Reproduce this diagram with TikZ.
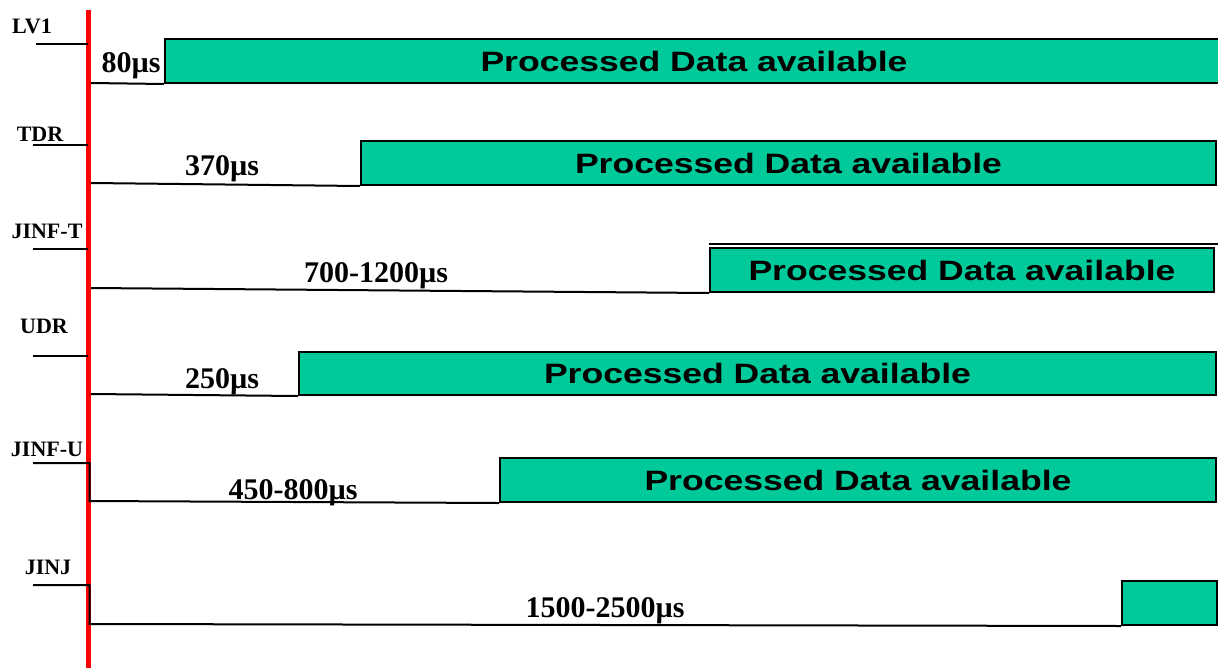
\documentclass[tikz,border=0pt]{standalone}
\usepackage{fontspec}
\setmainfont{Liberation Serif}
\newfontfamily\boxfont[FakeStretch=1.27]{Liberation Sans}
\definecolor{dataGreen}{RGB}{0,201,154}
\tikzset{
  sig/.style={line width=2pt, black},
  trigger/.style={line width=5pt, red},
  rowlabel/.style={font=\fontsize{22}{24}\selectfont\bfseries, anchor=base, inner sep=0pt},
  delay/.style={font=\fontsize{30}{32}\selectfont\bfseries, anchor=base, inner sep=0pt},
  databox/.style={draw=black, line width=2pt, fill=dataGreen, anchor=north west,
    inner sep=0pt, font=\boxfont\fontsize{28}{30}\selectfont\bfseries},
}
\begin{document}
\begin{tikzpicture}[x=1pt, y=-1pt]
\useasboundingbox (0,0) rectangle (1218,667);

% trigger line
\coordinate (trigTop) at (88.5,10);
\coordinate (trigBot) at (88.5,670);
\draw[trigger] (trigTop) -- (trigBot);

% ---- LV1 ----
\node[rowlabel] (lv1) at (32,33) {LV1};
\coordinate (lv1in) at (36,44);
\coordinate (lv1red) at (88,44);
\coordinate (lv1low) at (91,83);
\node[databox, minimum width=1058pt, minimum height=44pt] (lv1box) at (164,38) {Processed Data available};
\node[delay] (lv1t) at (131,72) {80µs};
\draw[sig] (lv1in) -- (lv1red);
\draw[sig] (lv1low) -- (lv1box.south west);

% ---- TDR ----
\node[rowlabel] (tdr) at (40,141) {TDR};
\coordinate (tdrin) at (33,145);
\coordinate (tdrred) at (88,145);
\coordinate (tdrlow) at (91,183);
\node[databox, minimum width=855pt, minimum height=44pt] (tdrbox) at (360,140) {Processed Data available};
\node[delay] (tdrt) at (222,175) {370µs};
\draw[sig] (tdrin) -- (tdrred);
\draw[sig] (tdrlow) -- (tdrbox.south west);

% ---- JINF-T ----
\node[rowlabel] (jinft) at (47,238) {JINF-T};
\coordinate (jinftin) at (33,249);
\coordinate (jinftred) at (88,249);
\coordinate (jinftlow) at (91,288);
\node[databox, minimum width=504pt, minimum height=44pt] (jinftbox) at (709,247) {Processed Data available};
\node[delay] (jinftt) at (376,282) {700-1200µs};
\coordinate (jinftcapL) at (709,243.5);
\coordinate (jinftcapR) at (1220,243.5);
\draw[sig] (jinftin) -- (jinftred);
\draw[sig] (jinftlow) -- (jinftbox.south west);
\draw[sig] (jinftcapL) -- (jinftcapR);

% ---- UDR ----
\node[rowlabel] (udr) at (44,333) {UDR};
\coordinate (udrin) at (33,356);
\coordinate (udrred) at (88,356);
\coordinate (udrlow) at (91,394);
\node[databox, minimum width=917pt, minimum height=43pt] (udrbox) at (298,351) {Processed Data available};
\node[delay] (udrt) at (222,388) {250µs};
\draw[sig] (udrin) -- (udrred);
\draw[sig] (udrlow) -- (udrbox.south west);

% ---- JINF-U ----
\node[rowlabel] (jinfu) at (47,456) {JINF-U};
\coordinate (jinfuin) at (33,463);
\coordinate (jinfured) at (89.5,463);
\coordinate (jinfulow) at (89.5,501);
\node[databox, minimum width=716pt, minimum height=44pt] (jinfubox) at (499,457) {Processed Data available};
\node[delay] (jinfut) at (293,499) {450-800µs};
\draw[sig] (jinfuin) -- (jinfured) -- (jinfulow) -- (jinfubox.south west);

% ---- JINJ ----
\node[rowlabel] (jinj) at (48,574) {JINJ};
\coordinate (jinjin) at (33,585);
\coordinate (jinjred) at (89.5,585);
\coordinate (jinjlow) at (89.5,624);
\node[databox, minimum width=95pt, minimum height=44pt] (jinjbox) at (1121,580) {};
\node[delay] (jinjt) at (605,617) {1500-2500µs};
\draw[sig] (jinjin) -- (jinjred) -- (jinjlow) -- (jinjbox.south west);
\end{tikzpicture}
\end{document}
